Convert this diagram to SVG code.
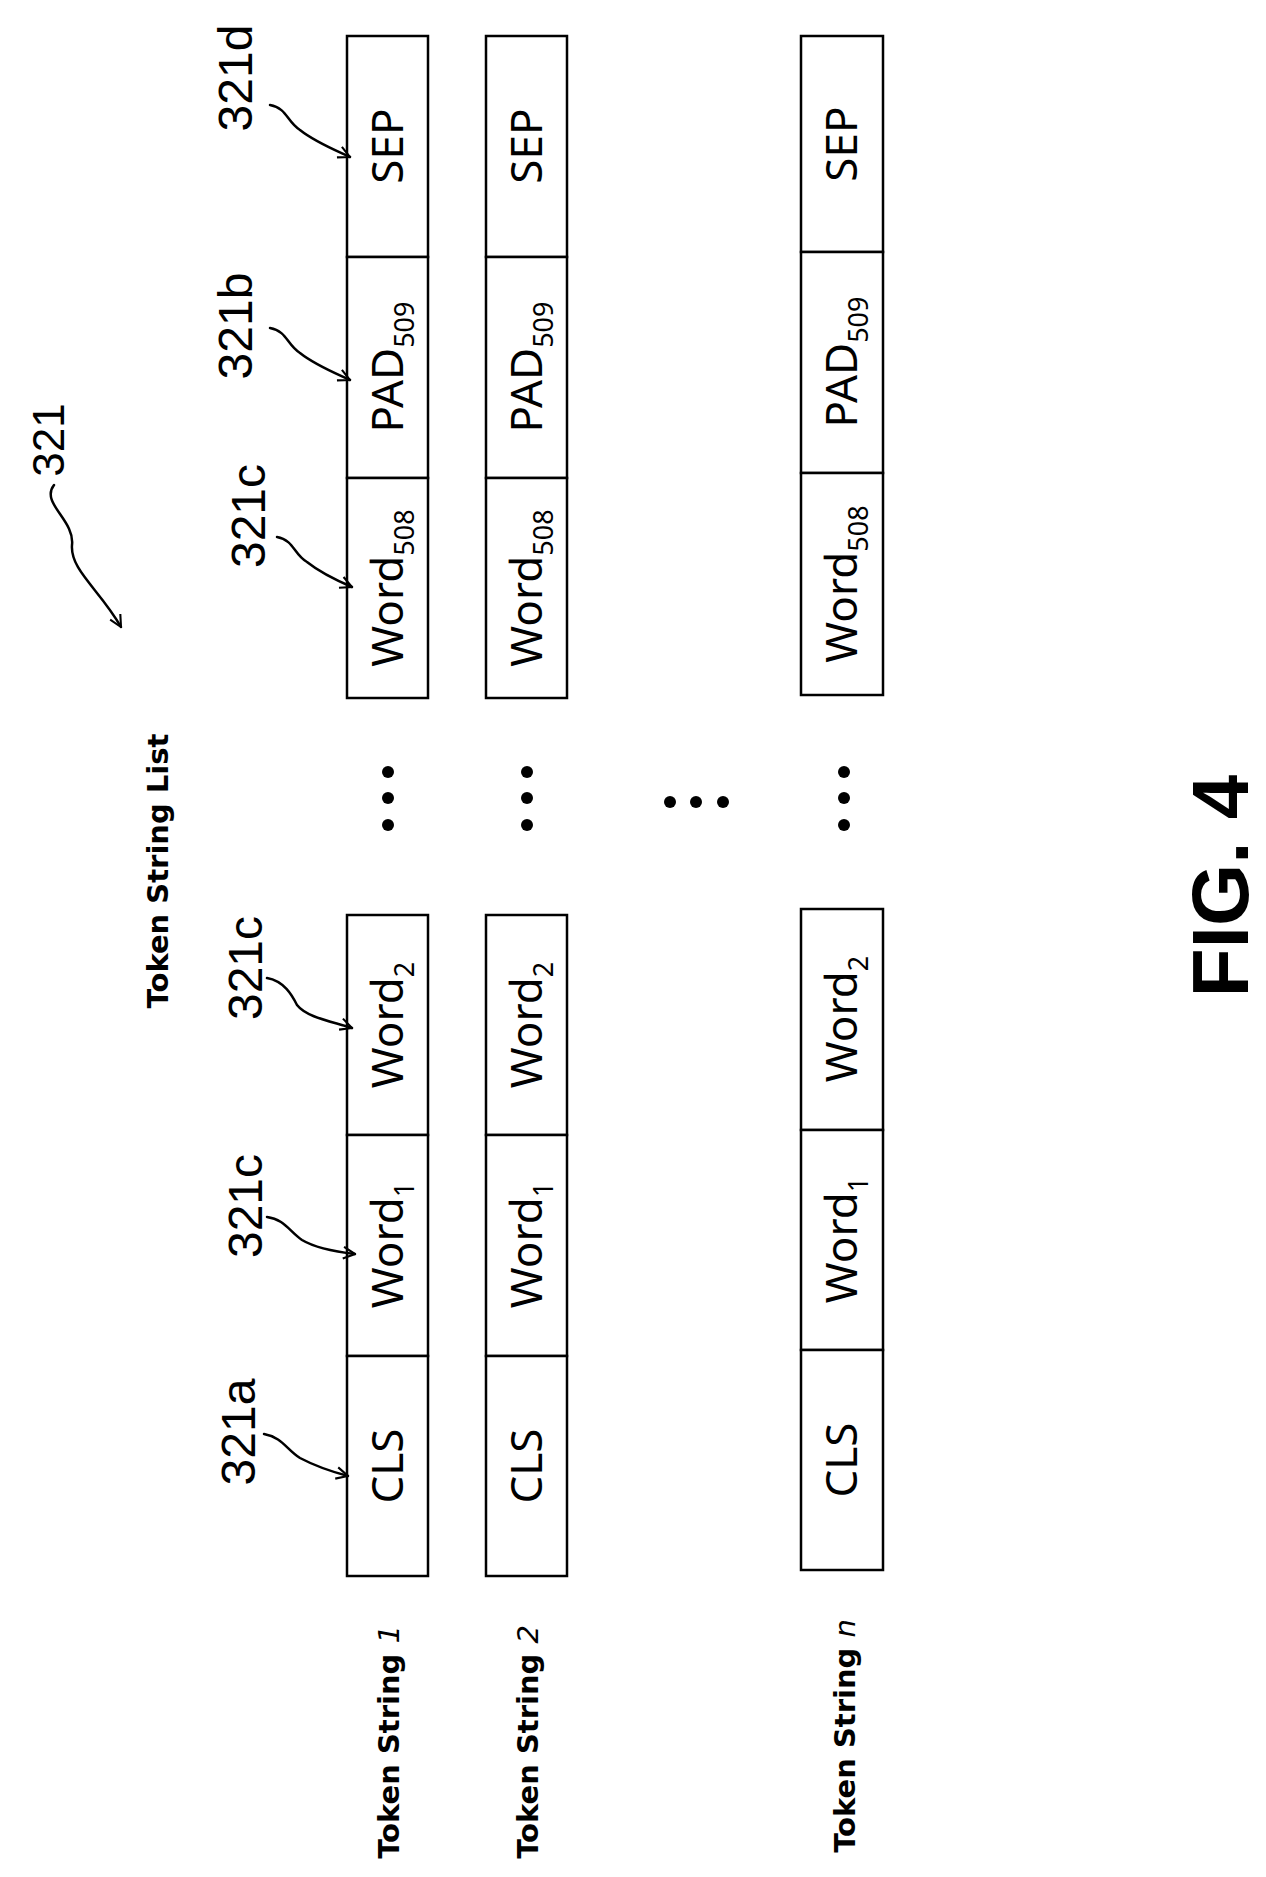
<svg xmlns="http://www.w3.org/2000/svg" width="1266" height="1877" viewBox="0 0 1266 1877">
<style>
.box{fill:#fff;stroke:#000;stroke-width:2.5}
.bt{font-family:"Noto Sans","Open Sans",sans-serif;font-size:44px;text-anchor:middle;fill:#000}
.sub{font-size:27px}
.ref{font-family:"Liberation Sans",Arial,sans-serif;font-size:48px;text-anchor:middle;fill:#000}
.lab{font-family:"DejaVu Sans",Verdana,sans-serif;font-size:29px;font-weight:bold;text-anchor:middle;fill:#000}
.ld{fill:none;stroke:#000;stroke-width:2.5;stroke-linecap:round}
.dot{fill:#000}
</style>
<defs>
<marker id="ah" viewBox="0 0 12 12" refX="11" refY="6" markerWidth="14" markerHeight="14" markerUnits="userSpaceOnUse" orient="auto">
<path d="M1,1 L11,6 L1,11" fill="none" stroke="#000" stroke-width="1.8"/>
</marker>
</defs>
<text class="lab" transform="translate(168,871) rotate(-90)">Token String List</text>
<text transform="translate(1248,886) rotate(-90)" style="font-family:'Liberation Sans',Arial,sans-serif;font-size:80px;font-weight:bold;text-anchor:middle">FIG. 4</text>
<g id="row1">
<rect class="box" x="347" y="36" width="81" height="221"/>
<rect class="box" x="347" y="257" width="81" height="221"/>
<rect class="box" x="347" y="478" width="81" height="220"/>
<rect class="box" x="347" y="915" width="81" height="220"/>
<rect class="box" x="347" y="1135" width="81" height="221"/>
<rect class="box" x="347" y="1356" width="81" height="220"/>
<text class="bt" transform="translate(403,146) rotate(-90)">SEP</text>
<text class="bt" transform="translate(403,367) rotate(-90)">PAD<tspan class="sub" dy="11">509</tspan></text>
<text class="bt" transform="translate(403,588) rotate(-90)">Word<tspan class="sub" dy="11">508</tspan></text>
<text class="bt" transform="translate(403,1025) rotate(-90)">Word<tspan class="sub" dy="11">2</tspan></text>
<text class="bt" transform="translate(403,1245) rotate(-90)">Word<tspan class="sub" dy="11">1</tspan></text>
<text class="bt" transform="translate(403,1466) rotate(-90)">CLS</text>
<circle class="dot" cx="388" cy="772" r="6"/><circle class="dot" cx="388" cy="798" r="6"/><circle class="dot" cx="388" cy="825" r="6"/>
<text class="lab" transform="translate(399,1742) rotate(-90)">Token String <tspan font-style="italic" font-weight="normal">1</tspan></text>
</g>
<g id="row2">
<rect class="box" x="486" y="36" width="81" height="221"/>
<rect class="box" x="486" y="257" width="81" height="221"/>
<rect class="box" x="486" y="478" width="81" height="220"/>
<rect class="box" x="486" y="915" width="81" height="220"/>
<rect class="box" x="486" y="1135" width="81" height="221"/>
<rect class="box" x="486" y="1356" width="81" height="220"/>
<text class="bt" transform="translate(542,146) rotate(-90)">SEP</text>
<text class="bt" transform="translate(542,367) rotate(-90)">PAD<tspan class="sub" dy="11">509</tspan></text>
<text class="bt" transform="translate(542,588) rotate(-90)">Word<tspan class="sub" dy="11">508</tspan></text>
<text class="bt" transform="translate(542,1025) rotate(-90)">Word<tspan class="sub" dy="11">2</tspan></text>
<text class="bt" transform="translate(542,1245) rotate(-90)">Word<tspan class="sub" dy="11">1</tspan></text>
<text class="bt" transform="translate(542,1466) rotate(-90)">CLS</text>
<circle class="dot" cx="527" cy="772" r="6"/><circle class="dot" cx="527" cy="798" r="6"/><circle class="dot" cx="527" cy="825" r="6"/>
<text class="lab" transform="translate(538,1742) rotate(-90)">Token String <tspan font-style="italic" font-weight="normal">2</tspan></text>
</g>
<g id="middots">
<circle class="dot" cx="670" cy="802" r="6"/><circle class="dot" cx="696" cy="802" r="6"/><circle class="dot" cx="723" cy="802" r="6"/>
</g>
<g id="rown">
<rect class="box" x="801" y="36" width="82" height="216"/>
<rect class="box" x="801" y="252" width="82" height="221"/>
<rect class="box" x="801" y="473" width="82" height="222"/>
<rect class="box" x="801" y="909" width="82" height="221"/>
<rect class="box" x="801" y="1130" width="82" height="220"/>
<rect class="box" x="801" y="1350" width="82" height="220"/>
<text class="bt" transform="translate(857,144) rotate(-90)">SEP</text>
<text class="bt" transform="translate(857,362) rotate(-90)">PAD<tspan class="sub" dy="11">509</tspan></text>
<text class="bt" transform="translate(857,584) rotate(-90)">Word<tspan class="sub" dy="11">508</tspan></text>
<text class="bt" transform="translate(857,1019) rotate(-90)">Word<tspan class="sub" dy="11">2</tspan></text>
<text class="bt" transform="translate(857,1240) rotate(-90)">Word<tspan class="sub" dy="11">1</tspan></text>
<text class="bt" transform="translate(857,1460) rotate(-90)">CLS</text>
<circle class="dot" cx="844" cy="772" r="6"/><circle class="dot" cx="844" cy="798" r="6"/><circle class="dot" cx="844" cy="825" r="6"/>
<text class="lab" transform="translate(855,1736) rotate(-90)">Token String <tspan font-style="italic" font-weight="normal">n</tspan></text>
</g>
<g id="refs">
<text class="ref" transform="translate(64,440) rotate(-90)" style="font-size:44px">321</text>
<text class="ref" transform="translate(252,78) rotate(-90)">321d</text>
<text class="ref" transform="translate(252,326) rotate(-90)">321b</text>
<text class="ref" transform="translate(265,516) rotate(-90)">321c</text>
<text class="ref" transform="translate(262,968) rotate(-90)">321c</text>
<text class="ref" transform="translate(262,1206) rotate(-90)">321c</text>
<text class="ref" transform="translate(255,1432) rotate(-90)">321a</text>
</g>
<g id="connectors">
<path class="ld" marker-end="url(#ah)" d="M54,485 C40,503 75,520 72,545 C70,570 100,590 121,627"/>
<path class="ld" marker-end="url(#ah)" d="M270,105 C287,108 287,122 300,130 C315,142 335,150 350,157"/>
<path class="ld" marker-end="url(#ah)" d="M270,328 C287,331 287,345 300,353 C315,365 335,373 350,380"/>
<path class="ld" marker-end="url(#ah)" d="M277,537 C294,540 294,555 307,562 C322,574 338,581 352,587"/>
<path class="ld" marker-end="url(#ah)" d="M267,978 C284,981 292,995 297,1005 C307,1018 335,1022 352,1028"/>
<path class="ld" marker-end="url(#ah)" d="M267,1217 C284,1219 290,1232 302,1240 C317,1249 338,1252 355,1254"/>
<path class="ld" marker-end="url(#ah)" d="M264,1434 C282,1437 287,1450 300,1458 C317,1467 333,1472 348,1476"/>
</g>
</svg>
